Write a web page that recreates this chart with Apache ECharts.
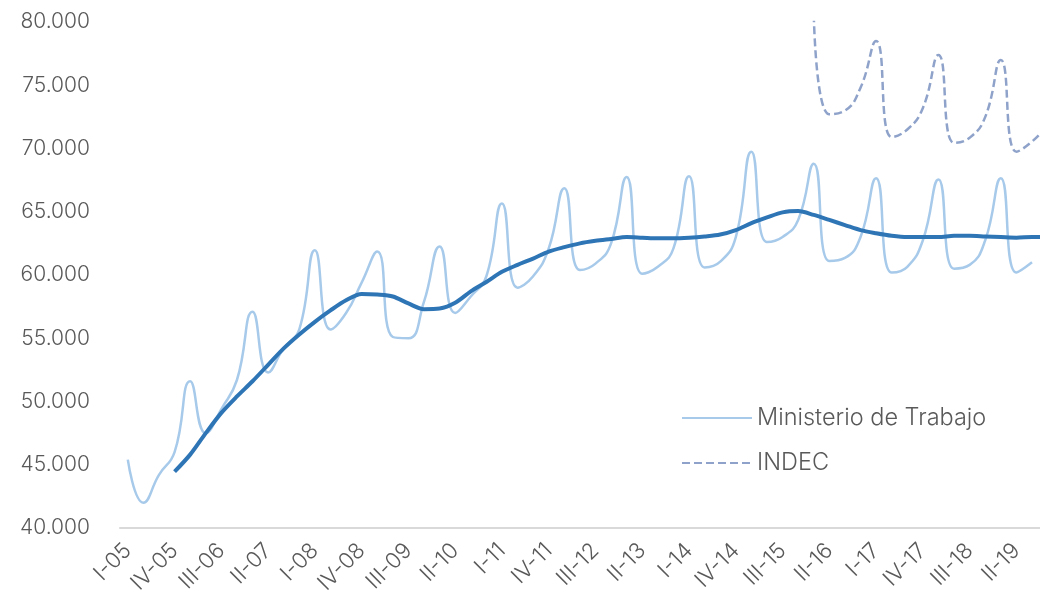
<!DOCTYPE html>
<html>
<head>
<meta charset="utf-8">
<script src="https://cdn.jsdelivr.net/npm/echarts@6/dist/echarts.min.js"></script>
<style>
html,body{margin:0;padding:0;background:#fff;}
#chart{width:1040px;height:599px;}
</style>
</head>
<body>
<div id="chart"></div>
<script>
const categories = [
  'I-05','II-05','III-05','IV-05',
  'I-06','II-06','III-06','IV-06',
  'I-07','II-07','III-07','IV-07',
  'I-08','II-08','III-08','IV-08',
  'I-09','II-09','III-09','IV-09',
  'I-10','II-10','III-10','IV-10',
  'I-11','II-11','III-11','IV-11',
  'I-12','II-12','III-12','IV-12',
  'I-13','II-13','III-13','IV-13',
  'I-14','II-14','III-14','IV-14',
  'I-15','II-15','III-15','IV-15',
  'I-16','II-16','III-16','IV-16',
  'I-17','II-17','III-17','IV-17',
  'I-18','II-18','III-18','IV-18',
  'I-19','II-19','III-19','IV-19'
];

const ministerio = [
  45400, 42000, 44200, 46000,
  51600, 47500, 49400, 51700,
  57100, 52300, 54200, 55700,
  61950, 55700, 57000, 59400,
  61850, 55100, 55000, 57900,
  62250, 57000, 58300, 59900,
  65650, 59000, 59900, 62100,
  66850, 60400, 60900, 62500,
  67750, 60100, 60650, 62100,
  67800, 60600, 61050, 63000,
  69750, 62600, 63000, 64350,
  68800, 61100, 61350, 63000,
  67650, 60200, 60650, 62750,
  67550, 60500, 60800, 62750,
  67650, 60200, 61000, null
];

const promedioMovil = [
  null, null, null, 44450,
  45800, 47500, 49100, 50400,
  51600, 52900, 54200, 55300,
  56300, 57200, 58000, 58500,
  58450, 58300, 57750, 57300,
  57350, 57800, 58700, 59450,
  60250, 60800, 61300, 61850,
  62200, 62500, 62700, 62850,
  63000, 62950, 62900, 62900,
  62950, 63050, 63200, 63550,
  64100, 64550, 64950, 65050,
  64750, 64350, 63950, 63550,
  63300, 63100, 63000, 63000,
  63000, 63100, 63100, 63050,
  63000, 62950, 63000, 63000
];

const indec = [
  null, null, null, null,
  null, null, null, null,
  null, null, null, null,
  null, null, null, null,
  null, null, null, null,
  null, null, null, null,
  null, null, null, null,
  null, null, null, null,
  null, null, null, null,
  null, null, null, null,
  null, null, null, null,
  80600, 72700, 73000, 74800,
  78500, 70900, 71500, 73200,
  77400, 70450, 70850, 72500,
  77000, 69750, 70550, 71850
];

const yTicks = { min: 40000, max: 80000, step: 5000 };

const FONT = 'Inter';
const TXT = '#595959';

const chart = echarts.init(document.getElementById('chart'), null, { renderer: 'canvas' });
chart.setOption({
  animation: false,
  backgroundColor: '#ffffff',
  textStyle: { fontFamily: FONT, color: TXT },
  grid: { left: 120, width: 935.4, top: 22, height: 506, containLabel: false, outerBoundsMode: 'none' },
  legend: {
    orient: 'vertical',
    left: 676,
    top: 401,
    itemWidth: 70,
    itemHeight: 14,
    itemGap: 21,
    itemStyle: { opacity: 0 },
    data: ['Ministerio de Trabajo', 'INDEC'],
    textStyle: { fontFamily: FONT, fontSize: 23.5, color: TXT, fontWeight: 300 }
  },
  xAxis: {
    type: 'category',
    data: categories,
    boundaryGap: true,
    axisLine: { show: true, lineStyle: { color: '#d9d9d9', width: 2 } },
    axisTick: { show: false },
    axisLabel: {
      interval: 2,
      rotate: 45,
      margin: 19,
      fontFamily: FONT,
      fontSize: 22,
      fontWeight: 300,
      color: TXT
    },
    splitLine: { show: false }
  },
  yAxis: {
    type: 'value',
    min: yTicks.min,
    max: yTicks.max,
    interval: yTicks.step,
    axisLine: { show: false },
    axisTick: { show: false },
    splitLine: { show: false },
    axisLabel: {
      margin: 30,
      fontFamily: FONT,
      fontSize: 21,
      fontWeight: 300,
      color: TXT,
      padding: [4, 0, 0, 0],
      formatter: function (v) {
        return String(v).replace(/\B(?=(\d{3})+(?!\d))/g, '.');
      }
    }
  },
  series: [
    {
      name: 'Ministerio de Trabajo',
      type: 'line',
      data: ministerio,
      smooth: 0.5,
      symbol: 'none',
      z: 2,
      lineStyle: { color: '#a7caea', width: 2.5 },
      itemStyle: { color: '#a7caea' }
    },
    {
      name: 'INDEC',
      type: 'line',
      data: indec,
      smooth: 0.5,
      symbol: 'none',
      z: 2,
      lineStyle: { color: '#8fa3ca', width: 2.5, type: [8, 4] },
      itemStyle: { color: '#8fa3ca' }
    },
    {
      name: 'Promedio móvil',
      type: 'line',
      data: promedioMovil,
      smooth: 0.3,
      symbol: 'none',
      z: 3,
      lineStyle: { color: '#2e75b6', width: 4 },
      itemStyle: { color: '#2e75b6' }
    }
  ]
});
</script>
</body>
</html>
